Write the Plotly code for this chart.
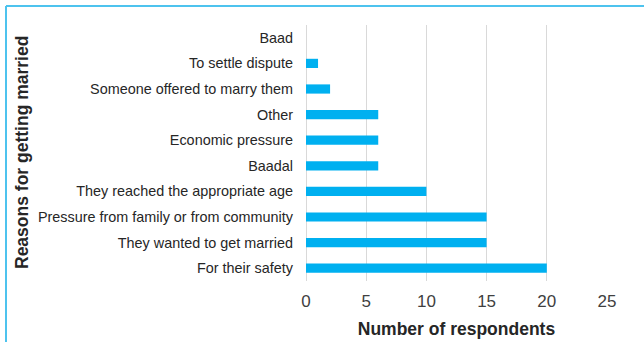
import plotly.graph_objects as go

categories = ["For their safety", "They wanted to get married",
              "Pressure from family or from community", "They reached the appropriate age",
              "Baadal", "Economic pressure", "Other", "Someone offered to marry them",
              "To settle dispute", "Baad"]
values = [20, 15, 15, 10, 6, 6, 6, 2, 1, 0]
x_ticks = [0, 5, 10, 15, 20, 25]

W, H = 644, 342
L, R, T, B = 306, 37, 25, 61
pw = W - L - R
ph = H - T - B

fig = go.Figure(go.Bar(
    x=values, y=categories, orientation="h",
    marker=dict(color="#00B0F0", line=dict(width=0)),
    width=0.36,
))

fig.update_layout(
    width=W, height=H,
    margin=dict(l=L, r=R, t=T, b=B, autoexpand=False),
    paper_bgcolor="white", plot_bgcolor="white",
    font=dict(family="Liberation Sans", color="#404040"),
    showlegend=False,
    xaxis=dict(range=[0, 25], tickvals=x_ticks, showgrid=True, gridcolor="#D9D9D9",
               gridwidth=1, zeroline=True, zerolinecolor="#D9D9D9", zerolinewidth=1,
               showline=False, tickfont=dict(size=17, color="#404040"), ticks="",
               ticklabelstandoff=8, automargin=False,
               title=dict(text="<b>Number of respondents</b>", font=dict(size=17.5, color="#262626"),
                          standoff=12)),
    yaxis=dict(categoryorder="array", categoryarray=categories, showgrid=False,
               tickfont=dict(size=14.4, color="#262626"), ticks="", ticklabelstandoff=12,
               showline=False, range=[-0.5, 9.5], automargin=False),
    shapes=[
        dict(type="line", xref="paper", yref="paper",
             x0=(6 - L) / pw, x1=(W + 5 - L) / pw, y0=(H - B - 6) / ph, y1=(H - B - 6) / ph,
             line=dict(color="#4DC3EE", width=2)),
        dict(type="line", xref="paper", yref="paper",
             x0=(6 - L) / pw, x1=(6 - L) / pw, y0=(H - B - 6) / ph, y1=(H - B - H - 5) / ph,
             line=dict(color="#4DC3EE", width=2)),
    ],
    annotations=[
        dict(text="<b>Reasons for getting married</b>", xref="paper", yref="paper",
             x=(22 - L) / pw, y=0.5, xanchor="center", yanchor="middle", textangle=-90,
             showarrow=False, font=dict(size=17.5, color="#262626")),
    ],
)

fig.write_html("out.html")
